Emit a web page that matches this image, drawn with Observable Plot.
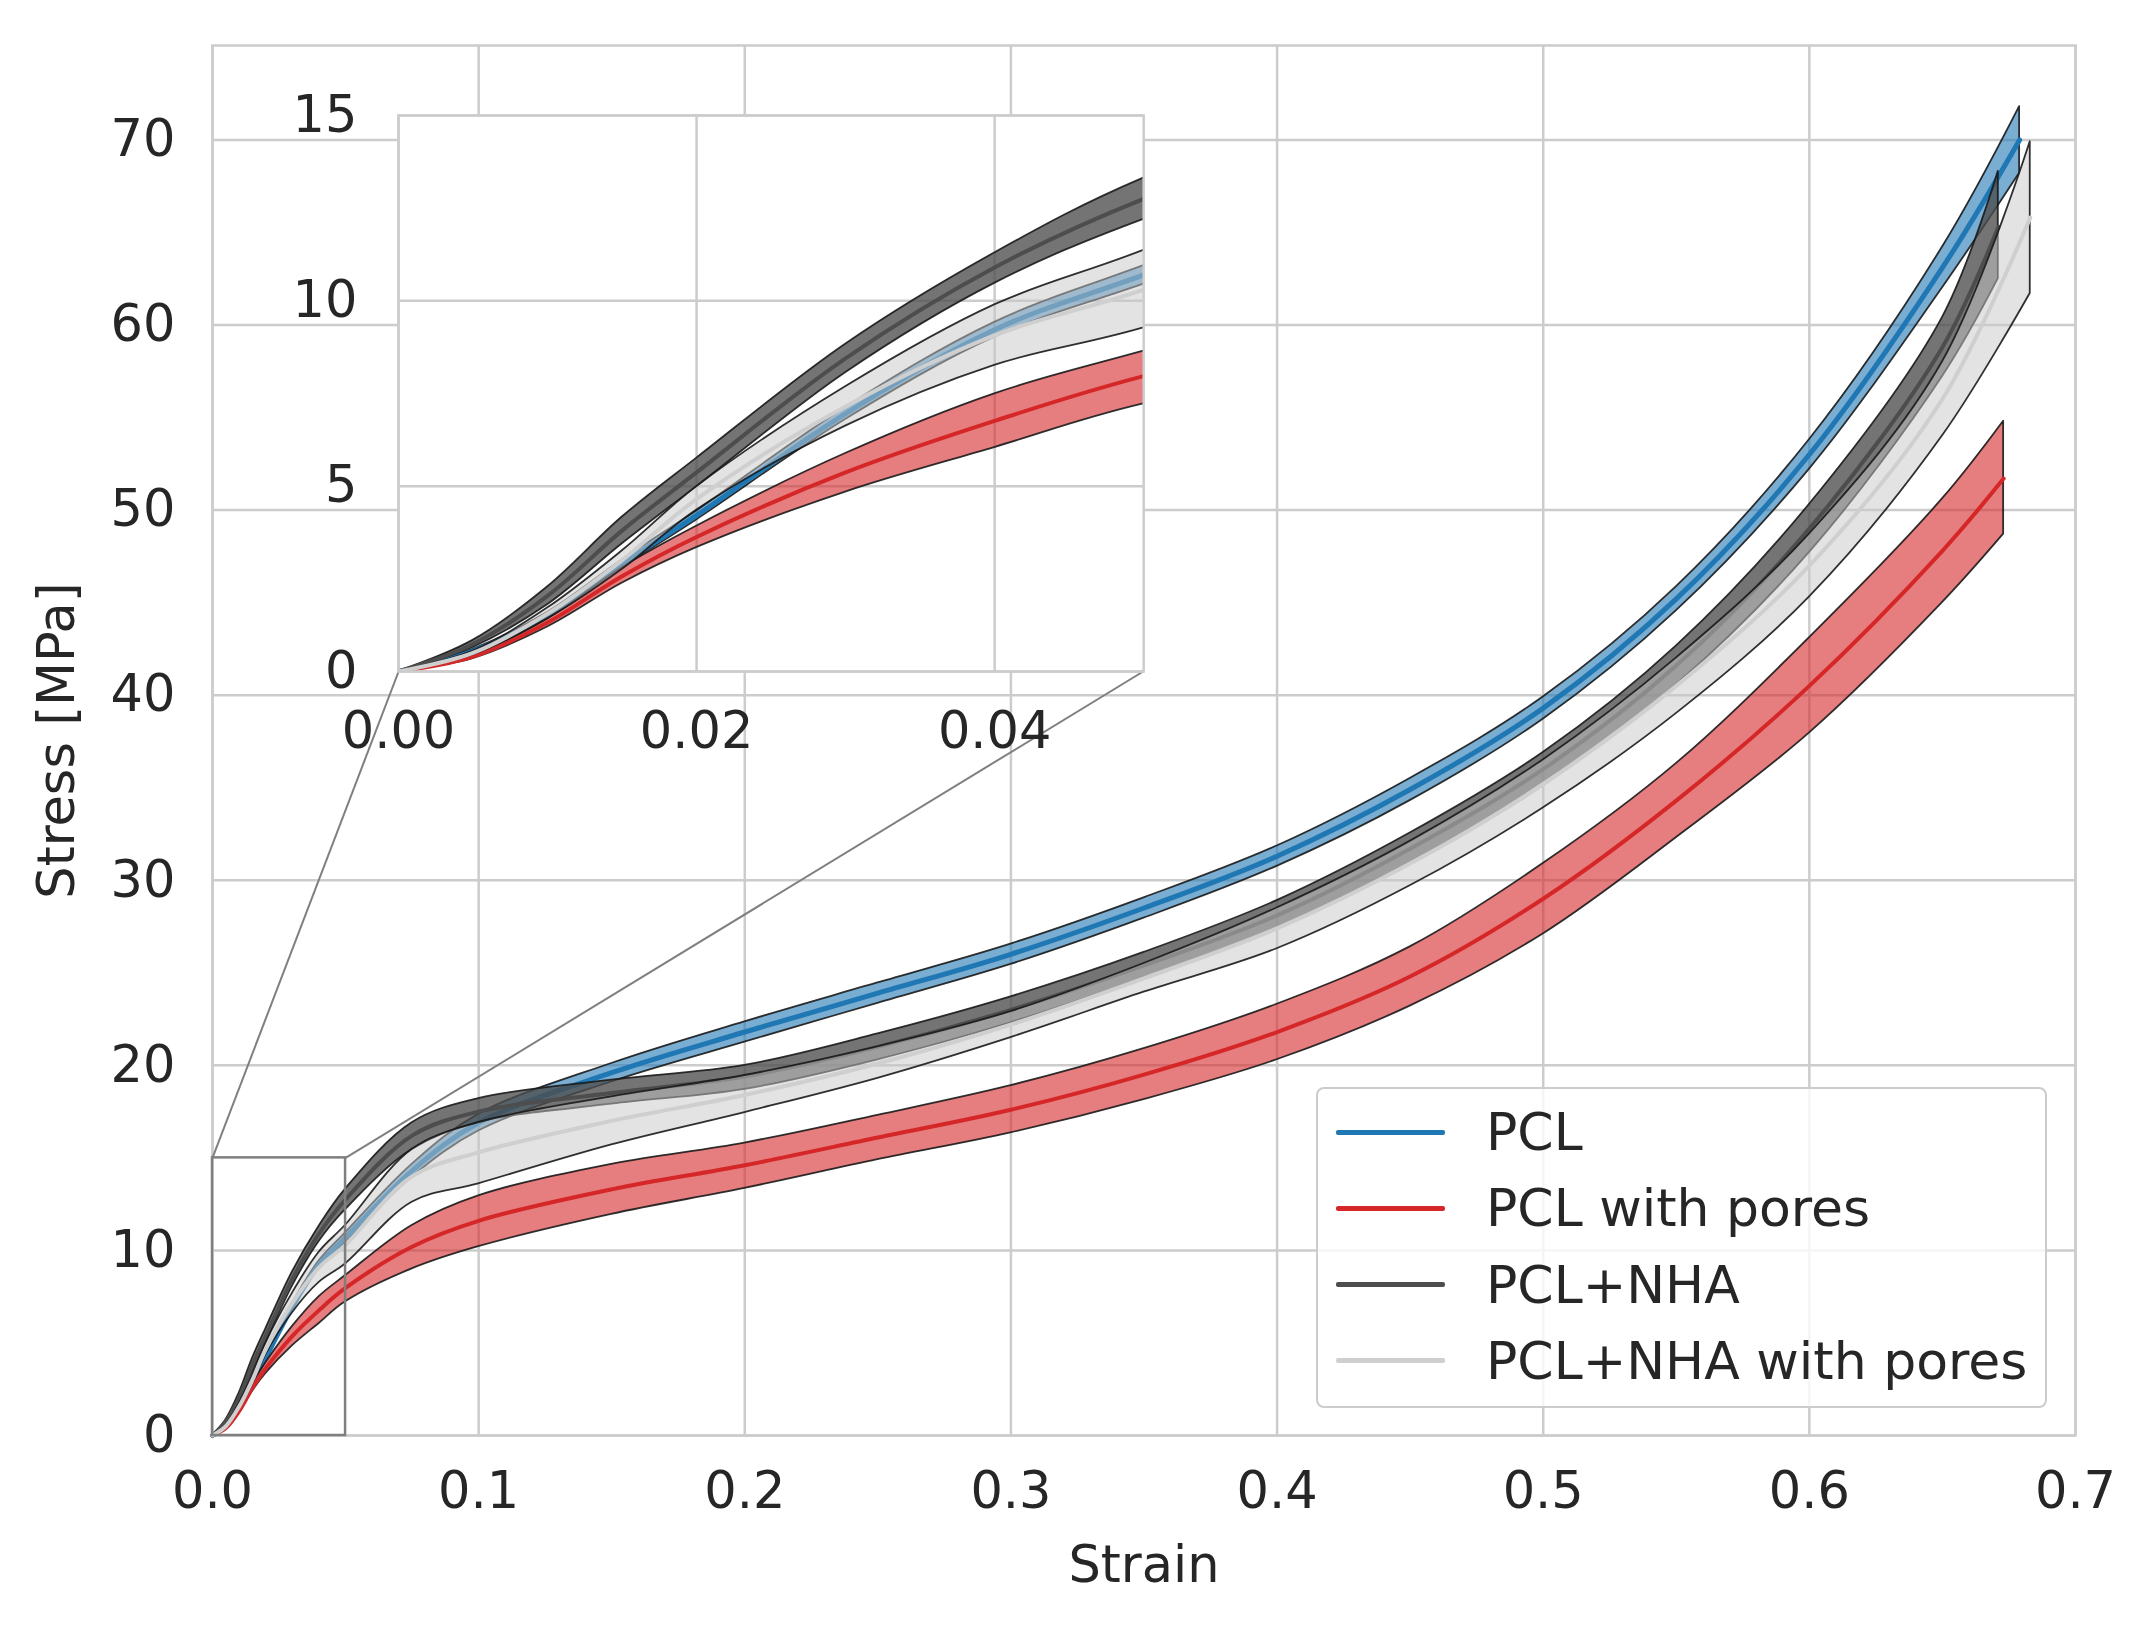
<!DOCTYPE html>
<html>
<head>
<meta charset="utf-8">
<script src="https://cdn.jsdelivr.net/npm/d3@7"></script>
<script src="https://cdn.jsdelivr.net/npm/@observablehq/plot@0.6"></script>
<style>
  html, body { margin: 0; padding: 0; background: #fff; }
  #chart { position: relative; width: 2143px; height: 1629px; font-family: "DejaVu Sans", sans-serif; color: #262626; }
  #chart svg { position: absolute; overflow: visible; }
  #legend { position: absolute; background: rgba(255,255,255,0.8); border: 2px solid #cccccc; border-radius: 8px; box-sizing: border-box; }
  #legend .row { position: absolute; left: 18px; height: 60px; display: flex; align-items: center; font-size: 52px; white-space: nowrap; }
  #legend .swatch { width: 109px; height: 5px; border-radius: 2px; margin-right: 41px; }
</style>
</head>
<body>
<div id="chart"></div>
<script>
// strain points (the last one of each series is its end strain)
const strainGrid = [0, 0.005, 0.01, 0.015, 0.02, 0.03, 0.04, 0.05, 0.075, 0.1, 0.15, 0.2, 0.25, 0.3, 0.35, 0.4, 0.45, 0.5, 0.55, 0.6, 0.65];

// PCL
const pclStrain = [...strainGrid, 0.679];
const pclMean = [0, 0.55, 1.51, 2.9, 4.21, 6.96, 9.22, 10.7, 14.3, 16.9, 19.6, 21.8, 23.9, 26.0, 28.5, 31.3, 34.9, 39.3, 45.2, 53.0, 63.1, 70.0];
const pclLow = [0, 0.5, 1.43, 2.8, 4.09, 6.8, 9.02, 10.45, 13.95, 16.45, 19.1, 21.25, 23.35, 25.45, 27.95, 30.75, 34.3, 38.7, 44.55, 52.2, 62.0, 68.2];
const pclHigh = [0, 0.6, 1.59, 3.0, 4.33, 7.12, 9.42, 10.95, 14.65, 17.35, 20.1, 22.35, 24.45, 26.55, 29.05, 31.85, 35.5, 39.9, 45.85, 53.8, 64.2, 71.8];

// PCL with pores
const poresStrain = [...strainGrid, 0.673];
const poresMean = [0, 0.4, 1.32, 2.57, 3.63, 5.37, 6.76, 7.97, 10.2, 11.6, 13.3, 14.6, 16.1, 17.6, 19.5, 21.8, 24.8, 29.0, 34.3, 40.5, 47.8, 51.7];
const poresLow = [0, 0.35, 1.2, 2.38, 3.34, 4.84, 6.04, 7.22, 9.0, 10.2, 11.95, 13.35, 14.9, 16.35, 18.15, 20.3, 23.2, 27.1, 32.3, 37.95, 45.0, 48.7];
const poresHigh = [0, 0.45, 1.42, 2.8, 3.92, 5.88, 7.49, 8.64, 11.35, 12.95, 14.65, 15.8, 17.3, 18.9, 20.9, 23.3, 26.4, 30.9, 36.3, 43.1, 50.6, 54.8];

// PCL+NHA
const nhaStrain = [...strainGrid, 0.671];
const nhaMean = [0, 0.74, 2.04, 3.8, 5.37, 8.45, 10.9, 12.75, 16.2, 17.5, 18.5, 19.4, 21.0, 23.0, 25.4, 28.1, 31.7, 36.0, 41.6, 49.0, 58.8, 65.3];
const nhaLow = [0, 0.65, 1.8, 3.44, 4.98, 8.06, 10.47, 12.2, 15.45, 16.9, 17.9, 18.7, 20.3, 22.3, 24.7, 27.35, 30.85, 35.1, 40.55, 47.7, 57.2, 62.5];
const nhaHigh = [0, 0.84, 2.28, 4.16, 5.75, 8.83, 11.29, 13.31, 16.9, 18.2, 19.2, 20.0, 21.7, 23.7, 26.1, 28.9, 32.55, 36.9, 42.65, 50.3, 60.4, 68.3];

// PCL+NHA with pores
const nhaPoresStrain = [...strainGrid, 0.683];
const nhaPoresMean = [0, 0.5, 1.56, 3.0, 4.65, 7.15, 9.07, 10.3, 14.0, 15.3, 17.0, 18.4, 20.1, 22.2, 24.7, 27.4, 30.9, 35.2, 40.5, 47.0, 56.0, 65.8];
const nhaPoresLow = [0, 0.45, 1.42, 2.75, 4.35, 6.62, 8.26, 9.27, 12.6, 13.6, 15.7, 17.45, 19.3, 21.5, 23.95, 26.3, 29.7, 33.9, 39.0, 45.3, 54.0, 61.7];
const nhaPoresHigh = [0, 0.55, 1.71, 3.25, 4.98, 7.68, 9.89, 11.36, 15.45, 16.9, 18.3, 19.45, 21.0, 22.9, 25.5, 28.5, 32.1, 36.5, 42.0, 48.7, 58.0, 69.9];

// axes
const xTicks = [0, 0.1, 0.2, 0.3, 0.4, 0.5, 0.6, 0.7];
const yTicks = [0, 10, 20, 30, 40, 50, 60, 70];
const insetXTicks = [0, 0.02, 0.04];
const insetYTicks = [0, 5, 10, 15];
const zoomX = [0, 0.05];
const zoomY = [0, 15];

const series = [
  {name: "PCL", line: "#1f77b4", fill: "#1f77b4", opacity: 0.6, width: 5, strain: pclStrain, mean: pclMean, low: pclLow, high: pclHigh},
  {name: "PCL with pores", line: "#d62728", fill: "#d62728", opacity: 0.6, width: 4, strain: poresStrain, mean: poresMean, low: poresLow, high: poresHigh},
  {name: "PCL+NHA", line: "#4d4d4d", fill: "#4d4d4d", opacity: 0.78, width: 4, strain: nhaStrain, mean: nhaMean, low: nhaLow, high: nhaHigh},
  {name: "PCL+NHA with pores", line: "#cfcfcf", fill: "#c8c8c8", opacity: 0.5, width: 4, strain: nhaPoresStrain, mean: nhaPoresMean, low: nhaPoresLow, high: nhaPoresHigh}
];

// turn the arrays into rows for Plot
const toRows = (s) => s.strain.map((x, i) => ({x, mean: s.mean[i], low: s.low[i], high: s.high[i]}));

const gridColor = "#cccccc";
const edgeColor = "#1a1a1a";
const curve = "catmull-rom";
const fontPx = 51;

function seriesMarks(rowsFor, clip) {
  const marks = [];
  series.forEach(s => {
    const rows = rowsFor(s);
    marks.push(Plot.areaY(rows, {x: "x", y1: "low", y2: "high", fill: s.fill, fillOpacity: s.opacity,
      stroke: edgeColor, strokeWidth: 1.8, strokeOpacity: 0.9, curve, clip}));
    marks.push(Plot.line(rows, {x: "x", y: "mean", stroke: s.line, strokeWidth: s.width, curve, clip}));
  });
  return marks;
}

// main axes
const W = 2143, H = 1629;
const mL = 212, mR = 68, mT = 45, mB = 194;
const xDomain = [0, 0.7], yDomain = [0, 75.1];
const insetBox = [0.1, 0.55, 0.4, 0.4]; // axes fraction: x0, y0, width, height

const insetCorner = (fx) => ({x: xDomain[0] + fx * (xDomain[1] - xDomain[0]), y: yDomain[0] + insetBox[1] * (yDomain[1] - yDomain[0])});
const leftCorner = insetCorner(insetBox[0]);
const rightCorner = insetCorner(insetBox[0] + insetBox[2]);
const connectors = [
  {x1: zoomX[0], y1: zoomY[1], x2: leftCorner.x, y2: leftCorner.y},
  {x1: zoomX[1], y1: zoomY[1], x2: rightCorner.x, y2: rightCorner.y}
];

const mainPlot = Plot.plot({
  width: W, height: H,
  marginLeft: mL, marginRight: mR, marginTop: mT, marginBottom: mB,
  x: {domain: xDomain},
  y: {domain: yDomain},
  style: {fontFamily: "DejaVu Sans", fontSize: fontPx + "px", color: "#262626", background: "transparent", overflow: "visible"},
  marks: [
    Plot.gridX(xTicks, {stroke: gridColor, strokeOpacity: 1, strokeWidth: 2.5}),
    Plot.gridY(yTicks, {stroke: gridColor, strokeOpacity: 1, strokeWidth: 2.5}),
    Plot.frame({stroke: gridColor, strokeWidth: 2.5}),
    ...seriesMarks(toRows, false),
    Plot.rect([{x1: zoomX[0], x2: zoomX[1], y1: zoomY[0], y2: zoomY[1]}], {x1: "x1", x2: "x2", y1: "y1", y2: "y2", fill: "none", stroke: "#7f7f7f", strokeWidth: 2.5}),
    Plot.link(connectors, {x1: "x1", y1: "y1", x2: "x2", y2: "y2", stroke: "#7f7f7f", strokeWidth: 2}),
    Plot.axisX({ticks: xTicks, tickFormat: d3.format(".1f"), tickSize: 0, tickPadding: 36, label: null}),
    Plot.axisY({ticks: yTicks, tickSize: 0, tickPadding: 37, label: null}),
    Plot.text(["Strain"], {frameAnchor: "bottom", dy: 146, text: d => d, fontSize: fontPx, textAnchor: "middle"}),
    Plot.text(["Stress [MPa]"], {frameAnchor: "left", dx: -155, rotate: -90, text: d => d, fontSize: fontPx, textAnchor: "middle"})
  ]
});
mainPlot.style.left = "0px";
mainPlot.style.top = "0px";

// inset axes
const frameW = W - mL - mR, frameH = H - mT - mB;
const iL = 150, iR = 10, iT = 40, iB = 110;
const insetW = insetBox[2] * frameW, insetH = insetBox[3] * frameH;
const insetLeft = mL + insetBox[0] * frameW;
const insetTop = mT + (1 - insetBox[1] - insetBox[3]) * frameH;

const insetRows = (s) => toRows(s).filter(d => d.x <= 0.1);

const insetPlot = Plot.plot({
  width: insetW + iL + iR, height: insetH + iT + iB,
  marginLeft: iL, marginRight: iR, marginTop: iT, marginBottom: iB,
  x: {domain: zoomX},
  y: {domain: zoomY},
  style: {fontFamily: "DejaVu Sans", fontSize: fontPx + "px", color: "#262626", background: "transparent", overflow: "visible"},
  marks: [
    Plot.frame({fill: "white", stroke: null}),
    Plot.gridX(insetXTicks, {stroke: gridColor, strokeOpacity: 1, strokeWidth: 2.5}),
    Plot.gridY(insetYTicks, {stroke: gridColor, strokeOpacity: 1, strokeWidth: 2.5}),
    ...seriesMarks(insetRows, true),
    Plot.frame({stroke: gridColor, strokeWidth: 2.5}),
    Plot.axisX({ticks: insetXTicks, tickFormat: d3.format(".2f"), tickSize: 0, tickPadding: 40, label: null}),
    Plot.axisY({ticks: insetYTicks, tickSize: 0, tickPadding: 41, label: null})
  ]
});
insetPlot.style.left = (insetLeft - iL) + "px";
insetPlot.style.top = (insetTop - iT) + "px";

const chart = document.querySelector("#chart");
chart.append(mainPlot);
chart.append(insetPlot);

// legend box, lower right
const legend = document.createElement("div");
legend.id = "legend";
Object.assign(legend.style, {left: "1316px", top: "1087px", width: "731px", height: "321px"});
series.forEach((s, i) => {
  const row = document.createElement("div");
  row.className = "row";
  row.style.top = (13 + i * 76.3) + "px";
  const sw = document.createElement("span");
  sw.className = "swatch";
  sw.style.background = s.line;
  const label = document.createElement("span");
  label.textContent = s.name;
  row.append(sw, label);
  legend.append(row);
});
chart.append(legend);
</script>
</body>
</html>
